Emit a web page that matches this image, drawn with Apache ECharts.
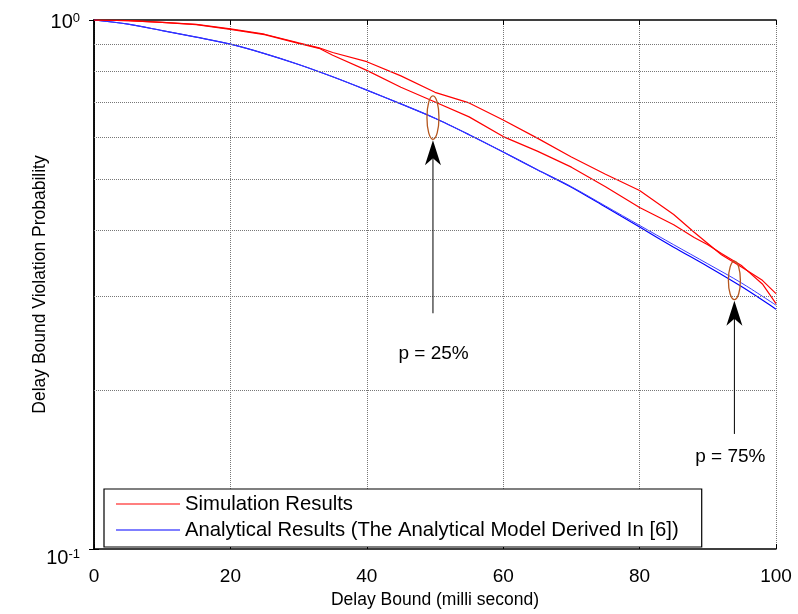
<!DOCTYPE html>
<html><head><meta charset="utf-8">
<script src="https://cdn.jsdelivr.net/npm/echarts@6/dist/echarts.min.js"></script>
<style>html,body{margin:0;padding:0;background:#fff}#c{width:798px;height:614px}</style>
</head><body><div id="c"></div>
<script>
// ---- data ----
const simX = [0,5,10,15,20,25,30,33,35,40,45,50,55,60,65,70,75,80,85,88,90,92,95,98,100];
const simUpper = [1.0,0.997,0.99,0.981,0.962,0.94,0.905,0.886,0.868,0.834,0.784,0.730,0.697,0.647,0.598,0.551,0.511,0.476,0.429,0.397,0.378,0.360,0.341,0.322,0.304];
const simLower = [1.0,0.997,0.99,0.980,0.960,0.938,0.903,0.884,0.858,0.803,0.746,0.700,0.656,0.602,0.565,0.527,0.484,0.442,0.410,0.388,0.376,0.362,0.343,0.317,0.291];
const anaX = [0,5,10,15,20,25,30,35,40,45,50,55,60,65,70,75,80,85,90,95,100];
const anaA = [1.0,0.982,0.955,0.928,0.900,0.864,0.824,0.781,0.737,0.694,0.652,0.607,0.563,0.521,0.483,0.443,0.406,0.372,0.342,0.313,0.284];
const anaB = [1.0,0.982,0.955,0.928,0.900,0.864,0.824,0.781,0.737,0.694,0.652,0.607,0.563,0.521,0.484,0.445,0.409,0.376,0.346,0.318,0.289];
const xTicks = [0,20,40,60,80,100];
const yGrid = [0.2,0.3,0.4,0.5,0.6,0.7,0.8,0.9];
const simName = 'Simulation Results';
const anaName = 'Analytical Results (The Analytical Model Derived In [6])';
// annotations: [x, ellipseTop, ellipseBottom, arrowTail, textY, textX, label]
const annotations = [
  [49.7, 0.719, 0.595, 0.279, 0.234, 49.8, 'p = 25%'],
  [93.9, 0.350, 0.296, 0.165, 0.1496, 93.3, 'p = 75%']
];

const FONT = '"Liberation Sans", Arial, Helvetica, sans-serif';
const zip = (xs, ys) => xs.map((x,i)=>[x, ys[i]]);

const chart = echarts.init(document.getElementById('c'), null, {renderer:'canvas'});
const axisLineStyle = {color:'#000', width:1.5};
const option = {
  animation:false,
  backgroundColor:'#fff',
  textStyle:{fontFamily:FONT},
  grid:{left:94, right:22, top:20, bottom:57, containLabel:false},
  legend:{
    data:[simName, anaName],
    orient:'vertical', left:104, top:489,
    backgroundColor:'#fff', borderColor:'#000', borderWidth:1.2,
    padding:[4,23,6,12], itemGap:4,
    icon:'rect', itemWidth:64, itemHeight:1.2,
    textStyle:{fontFamily:FONT, fontSize:20.3, color:'#000', lineHeight:22},
    selectedMode:false
  },
  xAxis:[{
    type:'value', min:0, max:100, interval:20, position:'bottom',
    name:'Delay Bound (milli second)', nameLocation:'middle', nameGap:42, nameMoveOverlap:false,
    nameTextStyle:{fontFamily:FONT, fontSize:17.5, color:'#000'},
    axisLine:{show:true, lineStyle:axisLineStyle},
    axisTick:{show:true, inside:true, length:5, lineStyle:{color:'#000'}},
    axisLabel:{fontFamily:FONT, fontSize:19, color:'#000', margin:18},
    splitLine:{show:true, lineStyle:{color:'#777', type:'dotted', width:1}}
  },{
    type:'value', min:0, max:100, interval:20, position:'top',
    axisLine:{show:true, lineStyle:axisLineStyle},
    axisTick:{show:true, inside:true, length:5, lineStyle:{color:'#000'}},
    axisLabel:{show:false}, splitLine:{show:false}
  }],
  yAxis:[{
    type:'log', logBase:10, min:0.1, max:1,
    name:'Delay Bound Violation Probability', nameLocation:'middle', nameGap:45, nameMoveOverlap:false,
    nameTextStyle:{fontFamily:FONT, fontSize:17.5, color:'#000'},
    axisLine:{show:true, lineStyle:axisLineStyle},
    axisTick:{show:true, inside:true, length:5, lineStyle:{color:'#000'}},
    axisLabel:{
      margin:14, verticalAlign:'middle',
      formatter:function(v){
        const e = Math.round(Math.log10(v));
        return e < 0 ? '{b2|10}{s2|' + e + '}' : '{b|10}{s|' + e + '}';
      },
      rich:{
        b:{fontFamily:FONT, fontSize:20, color:'#000', padding:[4,0,0,0]},
        s:{fontFamily:FONT, fontSize:13, color:'#000', verticalAlign:'top', padding:[4,0,0,0]},
        b2:{fontFamily:FONT, fontSize:20, color:'#000', padding:[18,0,0,0]},
        s2:{fontFamily:FONT, fontSize:13, color:'#000', verticalAlign:'top', padding:[18,0,0,0]}
      }
    },
    splitLine:{show:false}
  },{
    type:'log', logBase:10, min:0.1, max:1, position:'right',
    axisLine:{show:true, lineStyle:axisLineStyle},
    axisTick:{show:true, inside:true, length:5, lineStyle:{color:'#000'}},
    axisLabel:{show:false}, splitLine:{show:false}
  }],
  series:[
    {name:simName, type:'line', data:zip(simX, simUpper), showSymbol:false, symbol:'none',
     lineStyle:{color:'#ff0000', width:1.2}, itemStyle:{color:'#ff0000'}, z:3,
     markLine:{silent:true, symbol:'none', label:{show:false},
       lineStyle:{color:'#777', type:'dotted', width:1},
       data: yGrid.map(v=>({yAxis:v}))}},
    {name:simName, type:'line', data:zip(simX, simLower), showSymbol:false, symbol:'none',
     lineStyle:{color:'#ff0000', width:1.2}, itemStyle:{color:'#ff0000'}, z:3},
    {name:anaName, type:'line', data:zip(anaX, anaA), showSymbol:false, symbol:'none', smooth:0.3,
     lineStyle:{color:'#0000ff', width:1.2}, itemStyle:{color:'#0000ff'}, z:2},
    {name:anaName, type:'line', data:zip(anaX, anaB), showSymbol:false, symbol:'none', smooth:0.3,
     lineStyle:{color:'#3a3aff', width:1}, itemStyle:{color:'#0000ff'}, z:2}
  ]
};
chart.setOption(option);

// annotations placed via data coordinates
const g = [];
annotations.forEach(a => {
  const [x, eTop, eBot, tail, ty, tx, label] = a;
  const pTop = chart.convertToPixel({xAxisIndex:0, yAxisIndex:0}, [x, eTop]);
  const pBot = chart.convertToPixel({xAxisIndex:0, yAxisIndex:0}, [x, eBot]);
  const pTail = chart.convertToPixel({xAxisIndex:0, yAxisIndex:0}, [x, tail]);
  const pText = chart.convertToPixel({xAxisIndex:0, yAxisIndex:0}, [tx, ty]);
  const cx = pTop[0], cy = (pTop[1]+pBot[1])/2, ry = (pBot[1]-pTop[1])/2;
  g.push({type:'ellipse', shape:{cx:cx, cy:cy, rx:6, ry:ry}, style:{fill:null, stroke:'#b5561e', lineWidth:1.3}, z:10});
  const tipY = pBot[1] + 1;
  g.push({type:'line', shape:{x1:cx, y1:tipY+15, x2:cx, y2:pTail[1]}, style:{stroke:'#000', lineWidth:1}, z:10});
  g.push({type:'polygon', shape:{points:[[cx, tipY],[cx-8, tipY+25],[cx, tipY+18],[cx+8, tipY+25]]}, style:{fill:'#000'}, z:10});
  g.push({type:'text', x:pText[0], y:pText[1], style:{text:label, font:'19px ' + FONT, fill:'#000', align:'center', verticalAlign:'middle'}, z:10});
});
chart.setOption({graphic:g});
</script></body></html>
